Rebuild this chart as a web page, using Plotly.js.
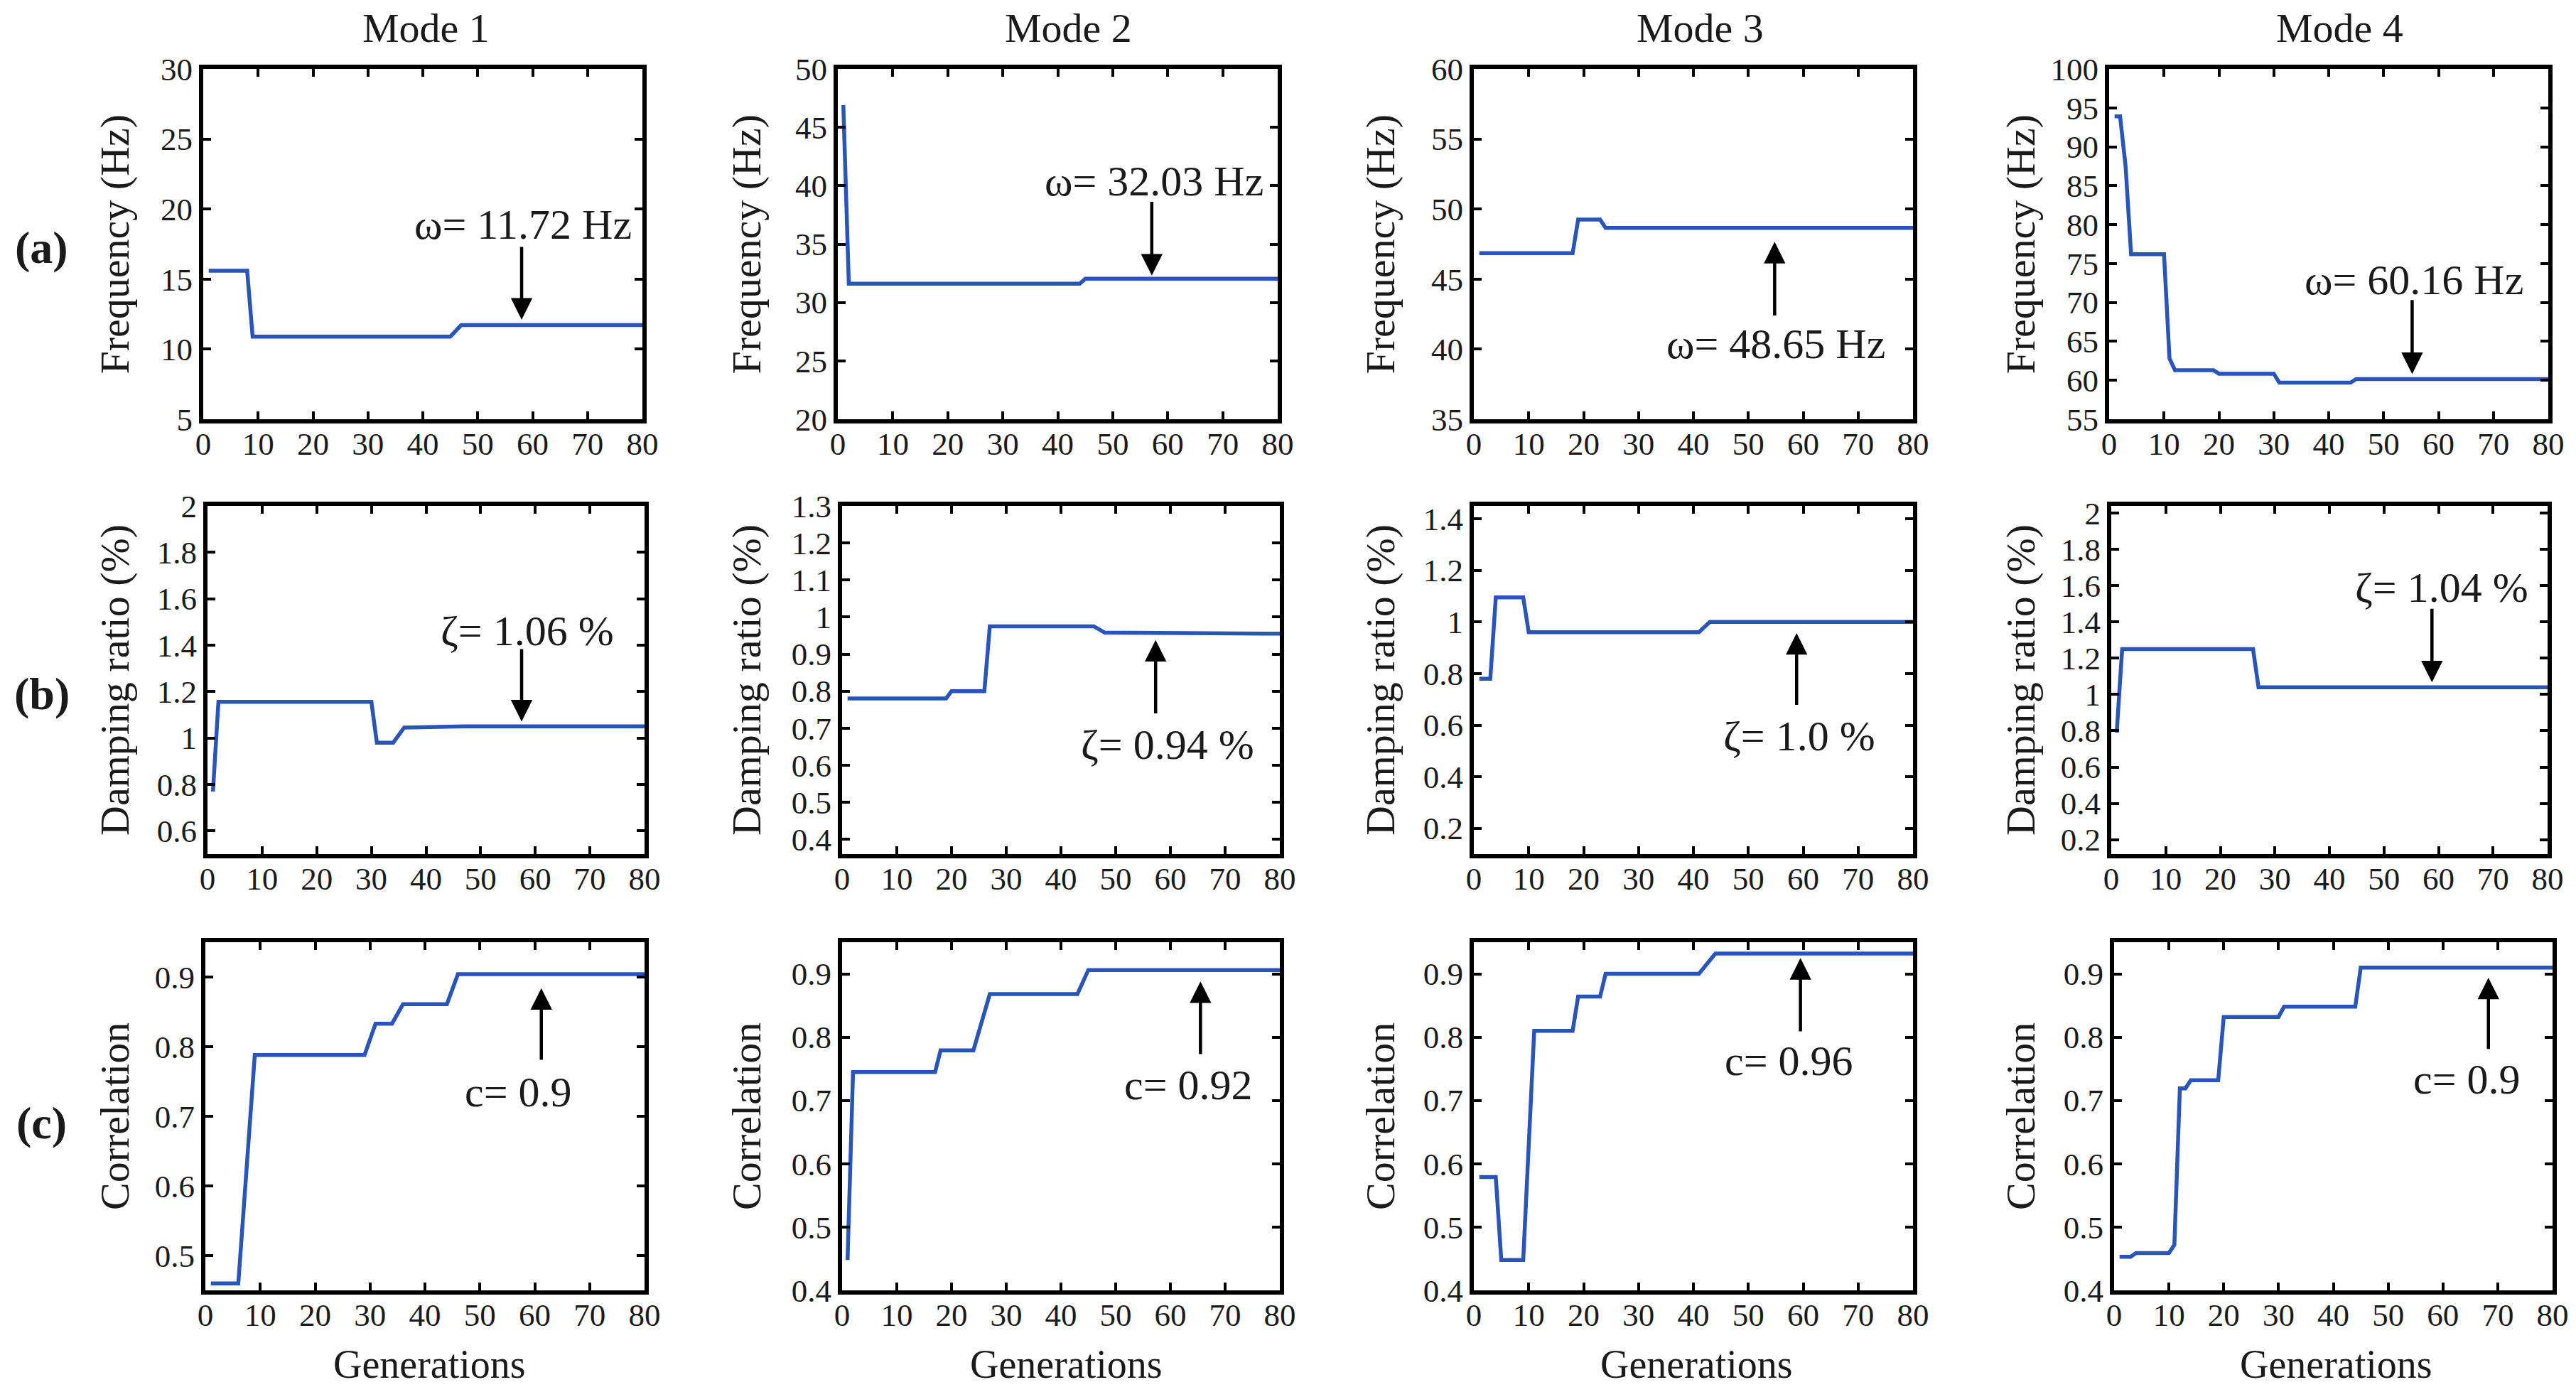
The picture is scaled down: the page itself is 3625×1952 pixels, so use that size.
<!DOCTYPE html>
<html><head><meta charset="utf-8">
<script src="https://cdn.plot.ly/plotly-3.0.1.min.js"></script>
<style>html,body{margin:0;padding:0;background:#fff}#chart{width:3625px;height:1952px}</style>
</head><body><div id="chart"></div>
<script>
// ---------- text ----------
const modeTitles = ['Mode 1', 'Mode 2', 'Mode 3', 'Mode 4'];
const rowLabels = ['(a)', '(b)', '(c)'];
const rowYTitles = ['Frequency (Hz)', 'Damping ratio (%)', 'Correlation'];
const xTitle = 'Generations';
const generationTicks = [0, 10, 20, 30, 40, 50, 60, 70, 80];

// ---------- (a) frequency ----------
const freqMode1Gen = [1, 8, 9, 45, 47, 80];
const freqMode1Val = [15.6, 15.6, 10.9, 10.9, 11.72, 11.72];
const freqMode2Gen = [1, 2, 44, 45, 80];
const freqMode2Val = [46.9, 31.6, 31.6, 32.03, 32.03];
const freqMode3Gen = [1, 18, 19, 23, 24, 80];
const freqMode3Val = [46.85, 46.85, 49.25, 49.25, 48.65, 48.65];
const freqMode4Gen = [1, 2, 3, 4, 10, 11, 12, 19, 20, 30, 31, 44, 45, 80];
const freqMode4Val = [93.9, 93.9, 87.5, 76.2, 76.2, 62.8, 61.3, 61.3, 60.85, 60.85, 59.7, 59.7, 60.16, 60.16];
const freqTickVals = [[5, 10, 15, 20, 25, 30], [20, 25, 30, 35, 40, 45, 50], [35, 40, 45, 50, 55, 60],
                      [55, 60, 65, 70, 75, 80, 85, 90, 95, 100]];
const freqLabels = ['ω= 11.72 Hz', 'ω= 32.03 Hz', 'ω= 48.65 Hz', 'ω= 60.16 Hz'];

// ---------- (b) damping ratio ----------
const dampMode1Gen = [1, 2, 30, 31, 34, 36, 47, 80];
const dampMode1Val = [0.77, 1.156, 1.156, 0.98, 0.98, 1.045, 1.05, 1.05];
const dampMode2Gen = [1, 19, 20, 26, 27, 46, 48, 80];
const dampMode2Val = [0.78, 0.78, 0.80, 0.80, 0.975, 0.975, 0.958, 0.955];
const dampMode3Gen = [1, 3, 4, 9, 10, 41, 43, 80];
const dampMode3Val = [0.78, 0.78, 1.095, 1.095, 0.96, 0.96, 1.0, 1.0];
const dampMode4Gen = [1, 2, 26, 27, 80];
const dampMode4Val = [0.79, 1.25, 1.25, 1.04, 1.04];
const dampTickVals = [[0.6, 0.8, 1, 1.2, 1.4, 1.6, 1.8, 2], [0.4, 0.5, 0.6, 0.7, 0.8, 0.9, 1, 1.1, 1.2, 1.3],
                      [0.2, 0.4, 0.6, 0.8, 1, 1.2, 1.4], [0.2, 0.4, 0.6, 0.8, 1, 1.2, 1.4, 1.6, 1.8, 2]];
const dampLabels = ['ζ= 1.06 %', 'ζ= 0.94 %', 'ζ= 1.0 %', 'ζ= 1.04 %'];

// ---------- (c) correlation ----------
const corrMode1Gen = [1, 6, 9, 29, 31, 34, 36, 44, 46, 80];
const corrMode1Val = [0.46, 0.46, 0.788, 0.788, 0.833, 0.833, 0.861, 0.861, 0.904, 0.904];
const corrMode2Gen = [1, 2, 17, 18, 24, 27, 43, 45, 80];
const corrMode2Val = [0.448, 0.745, 0.745, 0.779, 0.779, 0.868, 0.868, 0.906, 0.906];
const corrMode3Gen = [1, 4, 5, 9, 11, 18, 19, 23, 24, 41, 44, 80];
const corrMode3Val = [0.579, 0.579, 0.448, 0.448, 0.81, 0.81, 0.864, 0.864, 0.90, 0.90, 0.932, 0.932];
const corrMode4Gen = [1, 3, 4, 10, 11, 12, 13, 14, 19, 20, 30, 31, 44, 45, 80];
const corrMode4Val = [0.453, 0.453, 0.459, 0.459, 0.472, 0.719, 0.719, 0.732, 0.732, 0.832, 0.832, 0.848, 0.848, 0.91, 0.91];
const corrTickVals = [[0.5, 0.6, 0.7, 0.8, 0.9], [0.4, 0.5, 0.6, 0.7, 0.8, 0.9],
                      [0.4, 0.5, 0.6, 0.7, 0.8, 0.9], [0.4, 0.5, 0.6, 0.7, 0.8, 0.9]];
const corrLabels = ['c= 0.9', 'c= 0.92', 'c= 0.96', 'c= 0.9'];

// ---------- axis ranges (layout) ----------
const yRanges = [
  [[5, 30], [20, 50], [35, 60], [55, 100]],
  [[0.5, 2], [0.36, 1.3], [0.1, 1.45], [0.12, 2.04]],
  [[0.45, 0.95], [0.4, 0.95], [0.4, 0.95], [0.4, 0.95]]
];

// ---------- annotation placement (data coords) ----------
const labelPos = [
  [[58.3, 18.9], [57.5, 40.4], [55, 40.4], [55.5, 72.9]],
  [[58.6, 1.46], [59.5, 0.655], [59.3, 0.558], [60.6, 1.59]],
  [[57, 0.735], [63.2, 0.724], [57.3, 0.763], [64.3, 0.733]]
];
// [x, tail y, head y]
const arrowPos = [
  [[58, 17.4, 12.1], [57.1, 38.75, 32.3], [54.8, 42.3, 47.66], [55.2, 70.5, 60.8]],
  [[57.5, 1.389, 1.071], [57.3, 0.736, 0.938], [58.8, 0.673, 0.957], [58.8, 1.481, 1.067]],
  [[61.2, 0.779, 0.884], [65.5, 0.771, 0.888], [59.5, 0.807, 0.925], [68.3, 0.779, 0.894]]
];

const series = [
  [[freqMode1Gen, freqMode1Val], [freqMode2Gen, freqMode2Val], [freqMode3Gen, freqMode3Val], [freqMode4Gen, freqMode4Val]],
  [[dampMode1Gen, dampMode1Val], [dampMode2Gen, dampMode2Val], [dampMode3Gen, dampMode3Val], [dampMode4Gen, dampMode4Val]],
  [[corrMode1Gen, corrMode1Val], [corrMode2Gen, corrMode2Val], [corrMode3Gen, corrMode3Val], [corrMode4Gen, corrMode4Val]]
];
const tickVals = [freqTickVals, dampTickVals, corrTickVals];
const valueLabels = [freqLabels, dampLabels, corrLabels];

// ---------- geometry (pixels) ----------
const W = 3625, H = 1952;
const colPx = [
  [[286, 904], [1179, 1798], [2074, 2692], [2968, 3586]],
  [[292, 907], [1185, 1801], [2074, 2692], [2971, 3585]],
  [[289, 907], [1185, 1801], [2074, 2692], [2975, 3592]]
];
const rowPx = [[97, 590], [712, 1202], [1326, 1816]];
const yTitleX = [161, 1050, 1942, 2843];
const modeTitleX = [599, 1503, 2392, 3292];
const genTitleX = [604, 1500, 2387, 3287];

const FONT = "'Liberation Serif', 'Times New Roman', serif";
const INK = '#1a1a1a';
const BLUE = '#2a55b8';

const data = [];
const layout = {
  width: W, height: H,
  margin: {l: 0, r: 0, t: 0, b: 0},
  paper_bgcolor: '#fff', plot_bgcolor: '#fff',
  showlegend: false,
  font: {family: FONT, color: INK, size: 46},
  annotations: []
};

function fmt(v) { return String(v); }

for (let r = 0; r < 3; r++) {
  for (let c = 0; c < 4; c++) {
    const n = r * 4 + c + 1;
    const xa = n === 1 ? 'x' : 'x' + n;
    const ya = n === 1 ? 'y' : 'y' + n;
    const [gx, gy] = series[r][c];
    data.push({
      type: 'scatter', mode: 'lines', x: gx, y: gy,
      xaxis: xa, yaxis: ya,
      line: {color: BLUE, width: 5.5}, hoverinfo: 'skip'
    });
    const common = {
      showline: true, linecolor: '#000', linewidth: 6, mirror: 'allticks',
      ticks: 'inside', ticklen: 11, tickwidth: 4, tickcolor: '#000',
      showgrid: false, zeroline: false, fixedrange: true,
      tickfont: {family: FONT, size: 45, color: INK}
    };
    layout['xaxis' + (n === 1 ? '' : n)] = Object.assign({}, common, {
      domain: [colPx[r][c][0] / W, colPx[r][c][1] / W],
      anchor: ya, range: [0, 80], ticklabelstandoff: -10,
      tickvals: generationTicks, ticktext: generationTicks.map(fmt)
    });
    layout['yaxis' + (n === 1 ? '' : n)] = Object.assign({}, common, {
      domain: [1 - rowPx[r][1] / H, 1 - rowPx[r][0] / H],
      anchor: xa, range: yRanges[r][c],
      tickvals: tickVals[r][c], ticktext: tickVals[r][c].map(fmt)
    });
    // value label
    layout.annotations.push({
      xref: xa, yref: ya, x: labelPos[r][c][0], y: labelPos[r][c][1],
      text: valueLabels[r][c], showarrow: false,
      xanchor: 'center', yanchor: 'middle',
      font: {family: FONT, size: 60, color: INK}
    });
    // arrow
    const ap = arrowPos[r][c];
    layout.annotations.push({
      xref: xa, yref: ya, x: ap[0], y: ap[2],
      axref: xa, ayref: ya, ax: ap[0], ay: ap[1],
      text: ' ', showarrow: true, arrowhead: 2, arrowsize: 1.35, arrowwidth: 4.5,
      arrowcolor: '#000', standoff: 0, startstandoff: 0,
      font: {size: 1}
    });
    // y title
    layout.annotations.push({
      xref: 'paper', yref: 'paper',
      x: yTitleX[c] / W, y: 1 - (rowPx[r][0] + rowPx[r][1]) / 2 / H,
      text: rowYTitles[r], textangle: -90, showarrow: false,
      xanchor: 'center', yanchor: 'middle',
      font: {family: FONT, size: 58, color: INK}
    });
  }
}

for (let c = 0; c < 4; c++) {
  layout.annotations.push({
    xref: 'paper', yref: 'paper', x: modeTitleX[c] / W, y: 1 - 40 / H,
    text: modeTitles[c], showarrow: false, xanchor: 'center', yanchor: 'middle',
    font: {family: FONT, size: 58, color: INK}
  });
  layout.annotations.push({
    xref: 'paper', yref: 'paper', x: genTitleX[c] / W, y: 1 - 1920 / H,
    text: xTitle, showarrow: false, xanchor: 'center', yanchor: 'middle',
    font: {family: FONT, size: 56, color: INK}
  });
}
const rowLabelY = [349, 976, 1580];
for (let r = 0; r < 3; r++) {
  layout.annotations.push({
    xref: 'paper', yref: 'paper', x: 59 / W, y: 1 - rowLabelY[r] / H,
    text: '<b>' + rowLabels[r] + '</b>', showarrow: false, xanchor: 'center', yanchor: 'middle',
    font: {family: FONT, size: 64, color: INK}
  });
}

Plotly.newPlot('chart', data, layout, {displayModeBar: false, staticPlot: true});
</script>
</body></html>
